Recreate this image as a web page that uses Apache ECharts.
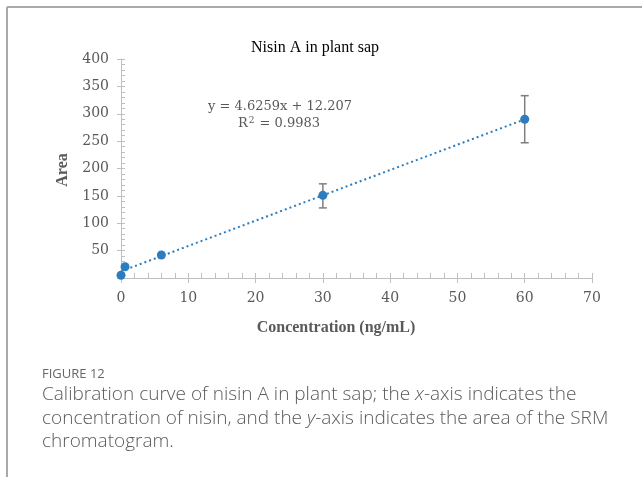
<!DOCTYPE html>
<html>
<head>
<meta charset="utf-8">
<script src="https://cdn.jsdelivr.net/npm/echarts@6/dist/echarts.min.js"></script>
<style>
  html, body { margin: 0; padding: 0; background: #fff; }
  #chart { width: 642px; height: 477px; }
</style>
</head>
<body>
<div id="chart"></div>
<script>
// Calibration standards: concentration (ng/mL) and mean peak area
const concentration = [0, 0.6, 6, 30, 60];
const area = [5, 20.5, 42, 151, 290];
// Error bar limits (low, high) for the standards that have them
const errorConc = [30, 60];
const errorLow = [128, 247];
const errorHigh = [172, 333];
// Linear fit reported on the chart
const slope = 4.6259;
const intercept = 12.207;
const rSquared = 0.9983;
const fitRange = [0, 60];

const xTicks = [0, 10, 20, 30, 40, 50, 60, 70];
const yTicks = [50, 100, 150, 200, 250, 300, 350, 400];

const serif = '"Liberation Serif", "DejaVu Serif", serif';
const tickFont = '"DejaVu Serif", serif';
const captionFont = '"Open Sans", Lato, sans-serif';
const axisGray = '#bfbfbf';
const labelGray = '#595959';
const blue = '#2b7dc0';

const points = concentration.map((c, i) => [c, area[i]]);
const fitLine = fitRange.map(x => [x, slope * x + intercept]);
const errors = errorConc.map((c, i) => [c, errorLow[i], errorHigh[i]]);

const grid = { left: 121, right: 50, top: 59, bottom: 199 };

const chart = echarts.init(document.getElementById('chart'), null, { renderer: 'canvas' });

chart.setOption({
  animation: false,
  backgroundColor: '#fff',
  title: {
    text: 'Nisin A in plant sap',
    left: 310, top: 35, textAlign: 'center',
    textStyle: { fontFamily: serif, fontSize: 16, fontWeight: 'normal', color: '#000' }
  },
  grid: grid,
  xAxis: [
    {
      type: 'value', min: 0, max: 70, interval: 10,
      axisLine: { lineStyle: { color: axisGray, width: 1 } },
      axisTick: { show: true, length: 5, lineStyle: { color: axisGray } },
      axisLabel: {
        fontFamily: tickFont, fontSize: 14, color: labelGray, margin: 13,
        formatter: v => xTicks.includes(v) ? String(v) : ''
      },
      splitLine: { show: false }
    },
    {
      type: 'value', min: 0, max: 70, interval: 10, position: 'bottom',
      axisLine: { show: false },
      axisTick: { show: true, inside: true, length: 5, lineStyle: { color: axisGray } },
      minorTick: { show: true, splitNumber: 5, length: 5, lineStyle: { color: axisGray } },
      axisLabel: { show: false },
      splitLine: { show: false }
    }
  ],
  yAxis: [
    {
      type: 'value', min: 0, max: 400, interval: 50,
      axisLine: { show: true, lineStyle: { color: axisGray, width: 1 } },
      axisTick: { show: true, length: 4, lineStyle: { color: axisGray } },
      axisLabel: {
        fontFamily: tickFont, fontSize: 14, color: labelGray, margin: 12,
        padding: [3, 0, 0, 0],
        formatter: v => yTicks.includes(v) ? String(v) : ''
      },
      splitLine: { show: false }
    },
    {
      type: 'value', min: 0, max: 400, interval: 50, position: 'left',
      axisLine: { show: false },
      axisTick: { show: true, inside: true, length: 4, lineStyle: { color: axisGray } },
      minorTick: { show: true, splitNumber: 5, length: 4, lineStyle: { color: axisGray } },
      axisLabel: { show: false },
      splitLine: { show: false }
    }
  ],
  graphic: [
    { type: 'line', shape: { x1: 7, y1: 7, x2: 642, y2: 7 }, style: { stroke: '#a9a9a9', lineWidth: 2 } },
    { type: 'line', shape: { x1: 7, y1: 7, x2: 7, y2: 477 }, style: { stroke: '#a9a9a9', lineWidth: 2 } },
    {
      type: 'text', x: 336, y: 328,
      style: {
        text: 'Concentration (ng/mL)', fontFamily: serif, fontSize: 16, fontWeight: 'bold',
        fill: labelGray, align: 'center', verticalAlign: 'middle'
      }
    },
    {
      type: 'text', x: 63, y: 170, rotation: Math.PI / 2,
      style: {
        text: 'Area', fontFamily: serif, fontSize: 16, fontWeight: 'bold',
        fill: labelGray, align: 'center', verticalAlign: 'middle'
      }
    },
    {
      type: 'text', x: 280, y: 107,
      style: {
        text: 'y = ' + slope + 'x + ' + intercept,
        fontFamily: tickFont, fontSize: 13, fill: labelGray, align: 'center', verticalAlign: 'middle'
      }
    },
    {
      type: 'text', x: 279, y: 124,
      style: {
        text: '{r|R}{sup|2}{r| = ' + rSquared + '}',
        align: 'center', verticalAlign: 'middle', fill: labelGray,
        rich: {
          r: { fontFamily: tickFont, fontSize: 13, fill: labelGray },
          sup: { fontFamily: tickFont, fontSize: 9, fill: labelGray, verticalAlign: 'top', padding: [0, 1, 6, 1] }
        }
      }
    },
    {
      type: 'text', x: 42, y: 374,
      style: { text: 'FIGURE 12', fontFamily: captionFont, fontSize: 13, fontWeight: 500, fill: '#666', verticalAlign: 'middle' }
    },
    {
      type: 'text', x: 42, y: 383,
      style: {
        text: 'Calibration curve of nisin A in plant sap; the {i|x}-axis indicates the\nconcentration of nisin, and the {i|y}-axis indicates the area of the SRM\nchromatogram.',
        fontFamily: captionFont, fontSize: 19, fontWeight: 300, lineHeight: 23.5, fill: '#5a5a5a',
        rich: {
          i: { fontFamily: captionFont, fontSize: 19, fontWeight: 300, fontStyle: 'italic', fill: '#5a5a5a', lineHeight: 23.5 }
        }
      }
    }
  ],
  series: [
    {
      name: 'Linear fit', type: 'line', data: fitLine,
      symbol: 'none', silent: true, z: 2,
      lineStyle: { color: blue, width: 2, type: [2, 3] }
    },
    {
      name: 'Error', type: 'custom', data: errors, z: 3,
      renderItem: function (params, api) {
        const x = api.value(0);
        const lo = api.coord([x, api.value(1)]);
        const hi = api.coord([x, api.value(2)]);
        const cap = 4;
        const s = { stroke: '#7f7f7f', lineWidth: 1.5 };
        return {
          type: 'group',
          children: [
            { type: 'line', shape: { x1: lo[0], y1: lo[1], x2: hi[0], y2: hi[1] }, style: s },
            { type: 'line', shape: { x1: lo[0] - cap, y1: lo[1], x2: lo[0] + cap, y2: lo[1] }, style: s },
            { type: 'line', shape: { x1: hi[0] - cap, y1: hi[1], x2: hi[0] + cap, y2: hi[1] }, style: s }
          ]
        };
      }
    },
    {
      name: 'Area', type: 'scatter', data: points, z: 4,
      symbol: 'circle', symbolSize: 9,
      itemStyle: { color: blue, opacity: 1 }
    }
  ]
});
</script>
</body>
</html>
